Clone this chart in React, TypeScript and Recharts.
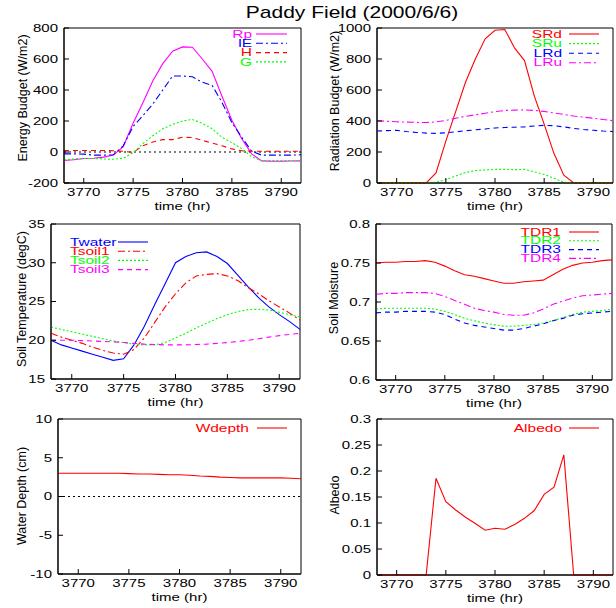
import React from 'react'
import { LineChart, Line, XAxis, YAxis, ReferenceLine, ReferenceArea } from 'recharts'

const FONT = '"Liberation Sans", Arial, Helvetica, sans-serif'

// hourly samples, 2000/6/6
const hours = [
  3768, 3769, 3770, 3771, 3772, 3773, 3774, 3775, 3776, 3777, 3778, 3779, 3780,
  3781, 3782, 3783, 3784, 3785, 3786, 3787, 3788, 3789, 3790, 3791, 3792,
]
const xTicks = [3770, 3775, 3780, 3785, 3790]

// energy budget (W/m2)
const rp = [-55, -50, -42, -40, -33, -20, 35, 185, 320, 460, 570, 650, 678, 676, 600, 520, 360, 205, 85, -12, -57, -60, -60, -58, -57]
const ie = [-12, -12, -14, -20, -20, -18, 40, 165, 235, 310, 400, 490, 490, 485, 450, 430, 320, 190, 95, 5, -20, -20, -20, -20, -18]
const sh = [10, 10, 10, 10, 10, 8, 5, -3, 40, 65, 80, 80, 95, 93, 75, 58, 40, 20, 8, 5, 5, 5, 5, 5, 5]
const gf = [-50, -45, -42, -42, -45, -47, -40, -5, 55, 105, 150, 178, 200, 210, 185, 150, 95, 60, 22, -30, -55, -55, -55, -55, -55]

// radiation budget (W/m2)
const srd = [0, 0, 0, 0, 0, 0, 65, 270, 460, 650, 800, 930, 985, 990, 870, 790, 560, 380, 190, 50, 0, 0, 0, 0, 0]
const sru = [0, 0, 0, 0, 0, 0, 5, 22, 45, 68, 80, 84, 88, 88, 86, 88, 72, 55, 30, 5, 0, 0, 0, 0, 0]
const lrd = [335, 338, 340, 332, 326, 322, 320, 324, 330, 337, 343, 348, 355, 358, 360, 362, 368, 372, 370, 362, 352, 345, 340, 335, 332]
const lru = [402, 398, 395, 393, 391, 390, 394, 404, 418, 430, 440, 450, 460, 468, 470, 472, 468, 462, 452, 442, 432, 425, 418, 410, 402]

// soil temperature (degC)
const twater = [20.0, 19.4, 19.0, 18.6, 18.2, 17.8, 17.4, 17.6, 19.4, 21.8, 24.6, 27.3, 30.0, 30.8, 31.3, 31.4, 30.8, 29.9, 28.4, 26.9, 25.5, 24.3, 23.3, 22.4, 21.4]
const tsoil1 = [20.9, 20.4, 20.0, 19.6, 19.1, 18.7, 18.35, 18.2, 18.8, 20.3, 22.3, 24.3, 26.0, 27.4, 28.3, 28.5, 28.6, 28.3, 27.7, 26.8, 26.0, 25.1, 24.3, 23.5, 22.6]
const tsoil2 = [21.7, 21.4, 21.1, 20.8, 20.5, 20.2, 19.9, 19.7, 19.5, 19.4, 19.4, 19.7, 20.3, 20.9, 21.6, 22.2, 22.8, 23.3, 23.7, 23.95, 24.0, 23.9, 23.6, 23.3, 23.0]
const tsoil3 = [20.0, 20.0, 20.0, 19.95, 19.9, 19.85, 19.8, 19.7, 19.6, 19.5, 19.45, 19.4, 19.4, 19.4, 19.45, 19.5, 19.6, 19.7, 19.85, 20.0, 20.2, 20.4, 20.6, 20.75, 20.9]

// soil moisture
const tdr1 = [0.750, 0.751, 0.751, 0.752, 0.752, 0.753, 0.751, 0.746, 0.740, 0.735, 0.733, 0.730, 0.727, 0.724, 0.724, 0.726, 0.727, 0.728, 0.735, 0.742, 0.747, 0.750, 0.751, 0.753, 0.754]
const tdr2 = [0.691, 0.692, 0.692, 0.692, 0.692, 0.692, 0.691, 0.688, 0.684, 0.679, 0.676, 0.673, 0.671, 0.669, 0.669, 0.670, 0.671, 0.673, 0.676, 0.680, 0.684, 0.687, 0.688, 0.689, 0.691]
const tdr3 = [0.686, 0.687, 0.687, 0.688, 0.688, 0.688, 0.687, 0.684, 0.678, 0.673, 0.670, 0.668, 0.666, 0.664, 0.664, 0.666, 0.669, 0.672, 0.676, 0.679, 0.683, 0.685, 0.686, 0.687, 0.688]
const tdr4 = [0.710, 0.711, 0.711, 0.712, 0.712, 0.712, 0.711, 0.707, 0.702, 0.697, 0.692, 0.689, 0.687, 0.684, 0.683, 0.683, 0.686, 0.691, 0.697, 0.701, 0.705, 0.708, 0.709, 0.710, 0.711]

// water depth (cm) and albedo
const wdepth = [3.0, 3.0, 3.0, 3.0, 3.0, 3.0, 3.0, 2.95, 2.9, 2.9, 2.85, 2.8, 2.8, 2.75, 2.65, 2.6, 2.5, 2.45, 2.4, 2.4, 2.4, 2.4, 2.4, 2.35, 2.3]
const albedo = [0, 0, 0, 0, 0, 0, 0.186, 0.141, 0.125, 0.111, 0.099, 0.086, 0.090, 0.088, 0.097, 0.109, 0.124, 0.155, 0.169, 0.231, 0, 0, 0, 0, 0]

const RED = '#ff0000'
const GREEN = '#00ff00'
const BLUE = '#0000ff'
const MAGENTA = '#ff00ff'
const DOT = '2 2'
const DASH = '5 4'
const DASHDOT = '7 3 2 3'

const squish = (k: number): React.CSSProperties =>
  ({ transformBox: 'fill-box', transformOrigin: 'center', transform: `scaleY(${k})` } as React.CSSProperties)

type Series = { key: string; name: string; color: string; dash?: string; values: number[] }

type LegendDef = {
  align: 'left' | 'right'
  textX: number
  sx: [number, number]
  y0: number
  step: number
}

type PanelDef = {
  left: number
  top: number
  plot: [number, number, number, number]
  yDomain: [number, number]
  yTicks: number[]
  yLabel: string
  yLabelPos: [number, number]
  series: Series[]
  zero?: boolean
  legend: LegendDef
}

// recharts clones label elements with its own x/y, so the position comes in as px/py
const AxisTitle = ({ px, py, text, rotate }: { px: number; py: number; text: string; rotate?: boolean }) => (
  <text
    x={px}
    y={py}
    transform={rotate ? `rotate(-90, ${px}, ${py})` : undefined}
    textAnchor='middle'
    dominantBaseline='central'
    fontFamily={FONT}
    fontSize={rotate ? 12.5 : 15}
    fill='#000'
    style={rotate ? undefined : squish(0.7)}>
    {text}
  </text>
)

const Panel = ({ p }: { p: PanelDef }) => {
  const [x0, y0, x1, y1] = p.plot
  const width = x1 - p.left + 4
  const height = y1 - p.top + 32
  const data = hours.map((t, i) => {
    const row: Record<string, number> = { t }
    p.series.forEach(s => (row[s.key] = s.values[i]))
    return row
  })
  const tickFont = { fill: '#000', fontSize: 15, fontFamily: FONT, style: squish(0.7) }
  const black = { stroke: '#000' }

  return (
    <div style={{ position: 'absolute', left: p.left, top: p.top }}>
      <LineChart
        width={width}
        height={height}
        data={data}
        margin={{ top: y0 - p.top, right: 4, bottom: 4, left: 0 }}>
        <ReferenceArea
          x1={3768}
          x2={3792}
          y1={p.yDomain[0]}
          y2={p.yDomain[1]}
          fill='none'
          stroke='#000'
          strokeWidth={1}
        />
        {p.zero && (
          <ReferenceLine
            y={0}
            stroke='#000'
            strokeDasharray='2 3'
          />
        )}
        <XAxis
          dataKey='t'
          type='number'
          domain={[3768, 3792]}
          ticks={xTicks}
          interval={0}
          height={28}
          tickSize={-5}
          tickMargin={9}
          tick={tickFont}
          axisLine={black}
          tickLine={black}
          label={<AxisTitle px={(x0 + x1) / 2 - p.left} py={y1 - p.top + 23} text='time (hr)' />}
        />
        <XAxis
          xAxisId='top'
          orientation='top'
          type='number'
          domain={[3768, 3792]}
          ticks={xTicks}
          interval={0}
          height={0}
          tickSize={-5}
          tick={false}
          axisLine={black}
          tickLine={black}
        />
        <YAxis
          type='number'
          domain={p.yDomain}
          ticks={p.yTicks}
          interval={0}
          width={x0 - p.left}
          tickSize={-5}
          tickMargin={11}
          tick={tickFont}
          axisLine={black}
          tickLine={black}
          label={<AxisTitle px={p.yLabelPos[0] - p.left} py={p.yLabelPos[1] - p.top} text={p.yLabel} rotate />}
        />
        <YAxis
          yAxisId='r'
          orientation='right'
          type='number'
          domain={p.yDomain}
          ticks={p.yTicks}
          interval={0}
          width={0}
          tickSize={-5}
          tick={false}
          axisLine={black}
          tickLine={black}
        />
        {p.series.map(s => (
          <Line
            key={s.key}
            dataKey={s.key}
            name={s.name}
            type='linear'
            stroke={s.color}
            strokeDasharray={s.dash}
            strokeWidth={1.1}
            dot={false}
            activeDot={false}
            isAnimationActive={false}
          />
        ))}
      </LineChart>
    </div>
  )
}

const panels: PanelDef[] = [
  {
    left: 0,
    top: 0,
    plot: [64, 28, 301, 183],
    yDomain: [-200, 800],
    yTicks: [-200, 0, 200, 400, 600, 800],
    yLabel: 'Energy Budget (W/m2)',
    yLabelPos: [23, 98],
    zero: true,
    series: [
      { key: 'rp', name: 'Rp', color: MAGENTA, values: rp },
      { key: 'ie', name: 'lE', color: BLUE, dash: DASHDOT, values: ie },
      { key: 'sh', name: 'H', color: RED, dash: DASH, values: sh },
      { key: 'gf', name: 'G', color: GREEN, dash: DOT, values: gf },
    ],
    legend: { align: 'right', textX: 252, sx: [256, 287], y0: 34, step: 9.3 },
  },
  {
    left: 306,
    top: 0,
    plot: [377, 28, 613, 183],
    yDomain: [0, 1000],
    yTicks: [0, 200, 400, 600, 800, 1000],
    yLabel: 'Radiation Budget (W/m2)',
    yLabelPos: [335, 101],
    series: [
      { key: 'srd', name: 'SRd', color: RED, values: srd },
      { key: 'sru', name: 'SRu', color: GREEN, dash: DOT, values: sru },
      { key: 'lrd', name: 'LRd', color: BLUE, dash: DASH, values: lrd },
      { key: 'lru', name: 'LRu', color: MAGENTA, dash: DASHDOT, values: lru },
    ],
    legend: { align: 'right', textX: 562, sx: [569, 599], y0: 34, step: 9.6 },
  },
  {
    left: 0,
    top: 200,
    plot: [51, 224, 300, 379],
    yDomain: [15, 35],
    yTicks: [15, 20, 25, 30, 35],
    yLabel: 'Soil Temperature (degC)',
    yLabelPos: [22, 299],
    series: [
      { key: 'tw', name: 'Twater', color: BLUE, values: twater },
      { key: 't1', name: 'Tsoil1', color: RED, dash: DASHDOT, values: tsoil1 },
      { key: 't2', name: 'Tsoil2', color: GREEN, dash: DOT, values: tsoil2 },
      { key: 't3', name: 'Tsoil3', color: MAGENTA, dash: DASH, values: tsoil3 },
    ],
    legend: { align: 'left', textX: 70, sx: [118, 148], y0: 242, step: 9.2 },
  },
  {
    left: 306,
    top: 200,
    plot: [376, 224, 612, 380],
    yDomain: [0.6, 0.8],
    yTicks: [0.6, 0.65, 0.7, 0.75, 0.8],
    yLabel: 'Soil Moisture',
    yLabelPos: [334, 298],
    series: [
      { key: 'd1', name: 'TDR1', color: RED, values: tdr1 },
      { key: 'd2', name: 'TDR2', color: GREEN, dash: DOT, values: tdr2 },
      { key: 'd3', name: 'TDR3', color: BLUE, dash: DASH, values: tdr3 },
      { key: 'd4', name: 'TDR4', color: MAGENTA, dash: DASHDOT, values: tdr4 },
    ],
    legend: { align: 'right', textX: 561, sx: [569, 599], y0: 232, step: 8.8 },
  },
  {
    left: 0,
    top: 400,
    plot: [58, 419, 301, 574],
    yDomain: [-10, 10],
    yTicks: [-10, -5, 0, 5, 10],
    yLabel: 'Water Depth (cm)',
    yLabelPos: [22, 496],
    zero: true,
    series: [{ key: 'wd', name: 'Wdepth', color: RED, values: wdepth }],
    legend: { align: 'right', textX: 249, sx: [257, 287], y0: 428, step: 9 },
  },
  {
    left: 306,
    top: 400,
    plot: [377, 419, 613, 575],
    yDomain: [0, 0.3],
    yTicks: [0, 0.05, 0.1, 0.15, 0.2, 0.25, 0.3],
    yLabel: 'Albedo',
    yLabelPos: [335, 495],
    series: [{ key: 'al', name: 'Albedo', color: RED, values: albedo }],
    legend: { align: 'right', textX: 562, sx: [569, 599], y0: 428, step: 9 },
  },
]

const Legends = () => (
  <svg
    width={616}
    height={608}
    style={{ position: 'absolute', left: 0, top: 0, pointerEvents: 'none' }}>
    <text
      x={352}
      y={12}
      textAnchor='middle'
      dominantBaseline='central'
      fontFamily={FONT}
      fontSize={21}
      fill='#000'
      style={squish(0.8)}>
      Paddy Field (2000/6/6)
    </text>
    {panels.map((p, pi) =>
      p.series.map((s, i) => {
        const y = p.legend.y0 + i * p.legend.step
        return (
          <g key={`${pi}-${s.key}`}>
            <text
              x={p.legend.textX}
              y={y}
              textAnchor={p.legend.align === 'right' ? 'end' : 'start'}
              dominantBaseline='central'
              fontFamily={FONT}
              fontSize={15.5}
              fill={s.color}
              style={squish(0.7)}>
              {s.name}
            </text>
            <line
              x1={p.legend.sx[0]}
              x2={p.legend.sx[1]}
              y1={y}
              y2={y}
              stroke={s.color}
              strokeWidth={1.1}
              strokeDasharray={s.dash}
            />
          </g>
        )
      })
    )}
  </svg>
)

export default function App() {
  return (
    <div style={{ position: 'absolute', left: 0, top: 0, width: 616, height: 608, background: '#fff' }}>
      {panels.map((p, i) => (
        <Panel key={i} p={p} />
      ))}
      <Legends />
    </div>
  )
}
